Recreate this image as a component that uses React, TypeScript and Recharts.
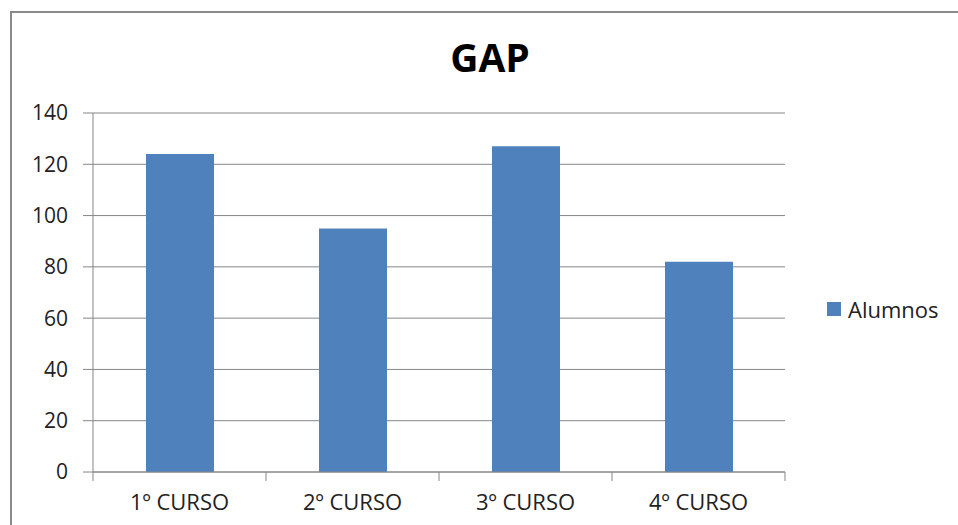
import React from "react";
import { BarChart, Bar, XAxis, YAxis, CartesianGrid, Legend } from "recharts";

const cursos = ["1º CURSO", "2º CURSO", "3º CURSO", "4º CURSO"];
const alumnos = [124, 95, 127, 82];
const yTicks = [0, 20, 40, 60, 80, 100, 120, 140];

const data = cursos.map((c, i) => ({ curso: c, Alumnos: alumnos[i] }));

const FONT = "'Open Sans', sans-serif";
const GREY = "#868686";
const BLUE = "#4F81BD";
const HALF_BAND = 86.5;
const LEGEND_W = 130;

function CursoTick(props: any) {
  const { x, y, payload, index } = props;
  return (
    <g>
      <line x1={x - HALF_BAND} x2={x - HALF_BAND} y1={y} y2={y + 9} stroke={GREY} />
      {index === cursos.length - 1 && (
        <line x1={x + HALF_BAND} x2={x + HALF_BAND} y1={y} y2={y + 9} stroke={GREY} />
      )}
      <text x={x} y={y + 38} textAnchor="middle" fill="#222" fontSize={22} fontFamily={FONT}>
        {payload.value}
      </text>
    </g>
  );
}

function LegendBox(props: any) {
  const items = props.payload || [];
  return (
    <div>
      {items.map((it: any) => (
        <div key={it.value} style={{ display: "flex", alignItems: "center", fontFamily: FONT, fontSize: 22, color: "#222" }}>
          <span style={{ width: 14, height: 14, background: it.color, marginRight: 7, display: "inline-block" }} />
          {it.value}
        </div>
      ))}
    </div>
  );
}

export default function App() {
  return (
    <div style={{ position: "absolute", left: 0, top: 0, width: 958, height: 525, background: "#fff", overflow: "hidden" }}>
      <div
        style={{
          position: "absolute",
          left: 10,
          top: 11,
          width: 960,
          height: 530,
          borderTop: "2px solid #8a8a8a",
          borderLeft: "2px solid #8a8a8a",
        }}
      />
      <div
        style={{
          position: "absolute",
          left: 390,
          width: 200,
          top: 31,
          textAlign: "center",
          fontFamily: FONT,
          fontWeight: 700,
          fontSize: 39,
          lineHeight: "52px",
          color: "#000",
        }}
      >
        GAP
      </div>
      <div style={{ position: "absolute", left: 0, top: 0 }}>
        <BarChart width={958} height={525} data={data} margin={{ top: 113, right: 173 - LEGEND_W, bottom: 8, left: 33 }}>
          <CartesianGrid vertical={false} stroke={GREY} />
          <XAxis
            dataKey="curso"
            height={45}
            axisLine={{ stroke: GREY }}
            tickLine={false}
            tickSize={0}
            tickMargin={0}
            tick={<CursoTick />}
            interval={0}
          />
          <YAxis
            width={60}
            domain={[0, 140]}
            ticks={yTicks}
            axisLine={{ stroke: GREY }}
            tickLine={{ stroke: GREY }}
            tickSize={10}
            tickMargin={15}
            tick={{ fill: "#222", fontSize: 21, fontFamily: FONT }}
          />
          <Legend
            layout="vertical"
            verticalAlign="middle"
            align="right"
            content={<LegendBox />}
            wrapperStyle={{ left: 827, top: 294, width: LEGEND_W }}
          />
          <Bar dataKey="Alumnos" fill={BLUE} barSize={68} isAnimationActive={false} />
        </BarChart>
      </div>
    </div>
  );
}
